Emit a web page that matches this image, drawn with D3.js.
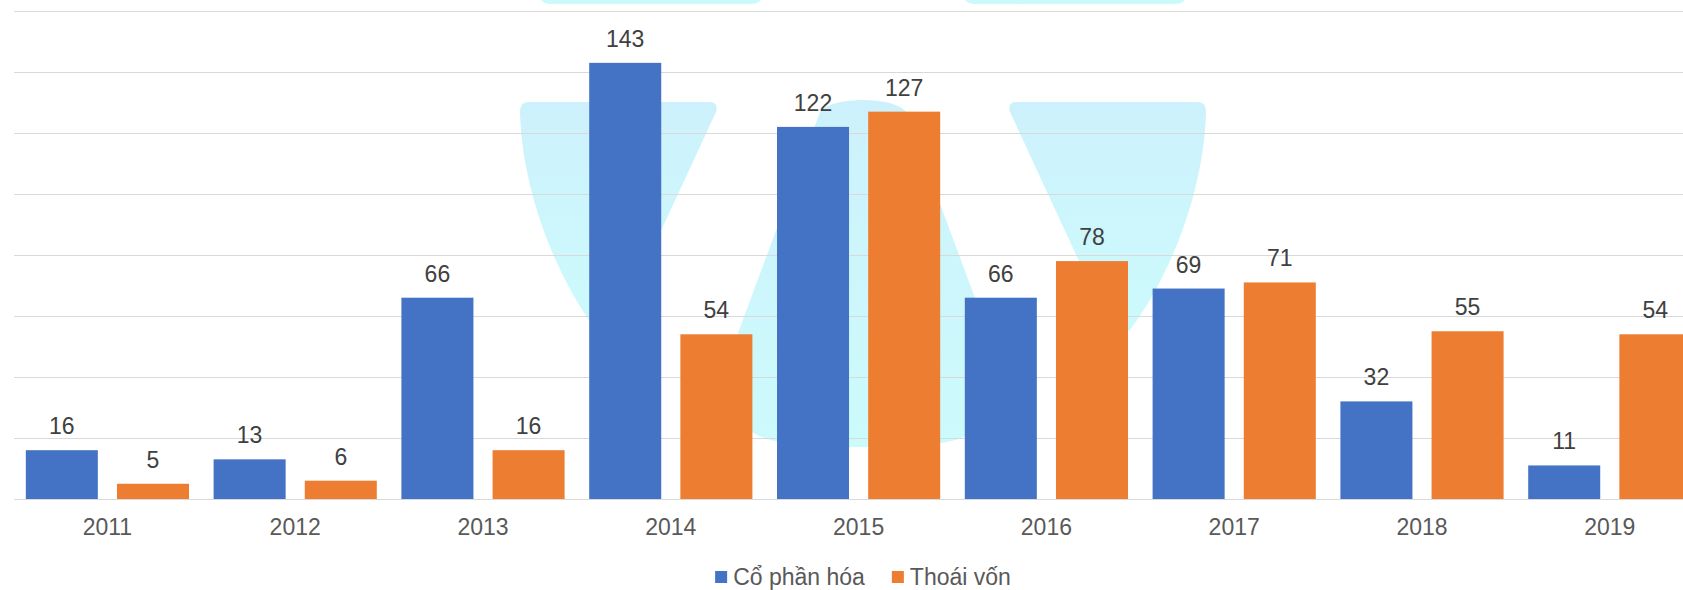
<!DOCTYPE html>
<meta charset="utf-8">
<style>
body { margin: 0; background: #fff; }
svg { display: block; font-family: "Liberation Sans", Arial, sans-serif; }
.grid line { stroke: #d9d9d9; stroke-width: 1.5px; shape-rendering: crispEdges; }
.axis text { font-size: 23px; fill: #595959; }
.label { font-size: 23px; fill: #404040; text-anchor: middle; }
.legend text { font-size: 23px; fill: #595959; }
</style>
<body>
<svg width="1683" height="590"></svg>
<script src="https://d3js.org/d3.v7.min.js"></script>
<script>

var years = ["2011", "2012", "2013", "2014", "2015", "2016", "2017", "2018", "2019"];
var seriesNames = ["Cổ phần hóa", "Thoái vốn"];
var cophanhoa = [16, 13, 66, 143, 122, 66, 69, 32, 11];
var thoaivon = [5, 6, 16, 54, 127, 78, 71, 55, 54];
var yTicks = [0, 20, 40, 60, 80, 100, 120, 140, 160];
var colors = ["#4472c4", "#ed7d31"];

var W = 1683, H = 590;
var plot = {left: 13.5, right: 1703.7, top: 11, bottom: 499};

var svg = d3.select("svg");

var x0 = d3.scaleBand()
	.domain(years)
	.range([plot.left, plot.right]);

var x1 = d3.scaleBand()
	.domain(seriesNames)
	.range([0, x0.bandwidth()])
	.paddingInner(0.21)
	.paddingOuter(0.135);

var y = d3.scaleLinear()
	.domain([0, 160])
	.range([plot.bottom, plot.top]);

// watermark logo, faint cyan, behind everything
var defs = svg.append("defs");
var grad = defs.append("linearGradient")
	.attr("id", "wm")
	.attr("x1", 0).attr("y1", 0).attr("x2", 0).attr("y2", 1);
grad.append("stop").attr("offset", "0%").attr("stop-color", "#cdf1fc");
grad.append("stop").attr("offset", "100%").attr("stop-color", "#ccfbfc");

var cx = 863;
var wm = svg.append("g").attr("fill", "url(#wm)");
var arm = "M528,102 L709,102 Q719,102 716,112 L616,328 Q608,340 596,330 " +
	"C555,275 522,190 520,112 Q520,102 528,102 Z";
wm.append("path").attr("d", arm);
wm.append("path").attr("d", arm)
	.attr("transform", "translate(" + (2 * cx) + ",0) scale(-1,1)");
wm.append("path")
	.attr("d", "M820,112 L728,360 C722,440 760,447 863,447 C966,447 1004,440 998,360 " +
		"L906,112 C895,96 831,96 820,112 Z");
wm.append("rect").attr("x", 538).attr("y", -30).attr("width", 226).attr("height", 34).attr("rx", 12);
wm.append("rect").attr("x", 962).attr("y", -30).attr("width", 226).attr("height", 34).attr("rx", 12);

// gridlines
svg.append("g")
	.attr("class", "grid")
	.selectAll("line")
	.data(yTicks)
	.enter()
	.append("line")
	.attr("x1", plot.left)
	.attr("x2", W)
	.attr("y1", function(d) { return Math.round(y(d)) + 0.5; })
	.attr("y2", function(d) { return Math.round(y(d)) + 0.5; });

var rows = years.map(function(yr, i) {
	return {year: yr, values: [cophanhoa[i], thoaivon[i]]};
});

var groups = svg.selectAll(".year")
	.data(rows)
	.enter()
	.append("g")
	.attr("class", "year")
	.attr("transform", function(d) { return "translate(" + x0(d.year) + ",0)"; });

var bars = groups.selectAll("g")
	.data(function(d) {
		return d.values.map(function(v, j) { return {name: seriesNames[j], value: v, j: j}; });
	})
	.enter()
	.append("g");

bars.append("rect")
	.attr("x", function(d) { return x1(d.name); })
	.attr("width", x1.bandwidth())
	.attr("y", function(d) { return y(d.value); })
	.attr("height", function(d) { return y(0) - y(d.value); })
	.attr("fill", function(d) { return colors[d.j]; });

bars.append("text")
	.attr("class", "label")
	.attr("x", function(d) { return x1(d.name) + x1.bandwidth() / 2; })
	.attr("y", function(d) { return y(d.value) - 16; })
	.text(function(d) { return d.value; });

// x axis labels
var xAxis = d3.axisBottom(x0).tickSize(0).tickPadding(0);
var gX = svg.append("g")
	.attr("class", "axis")
	.attr("transform", "translate(0," + plot.bottom + ")")
	.call(xAxis);
gX.select(".domain").remove();
gX.selectAll("text").attr("dy", null).attr("y", 36);

// legend
var legend = svg.append("g").attr("class", "legend");
var lx = 0;
seriesNames.forEach(function(name, i) {
	var item = legend.append("g").attr("transform", "translate(" + lx + ",0)");
	item.append("rect")
		.attr("x", 0).attr("y", 571)
		.attr("width", 12).attr("height", 12)
		.attr("fill", colors[i]);
	var t = item.append("text")
		.attr("x", 18).attr("y", 585)
		.text(name);
	lx += 18 + t.node().getComputedTextLength() + 27;
});
var lw = lx - 27;
legend.attr("transform", "translate(" + (cx - lw / 2) + ",0)");

</script>
</body>
